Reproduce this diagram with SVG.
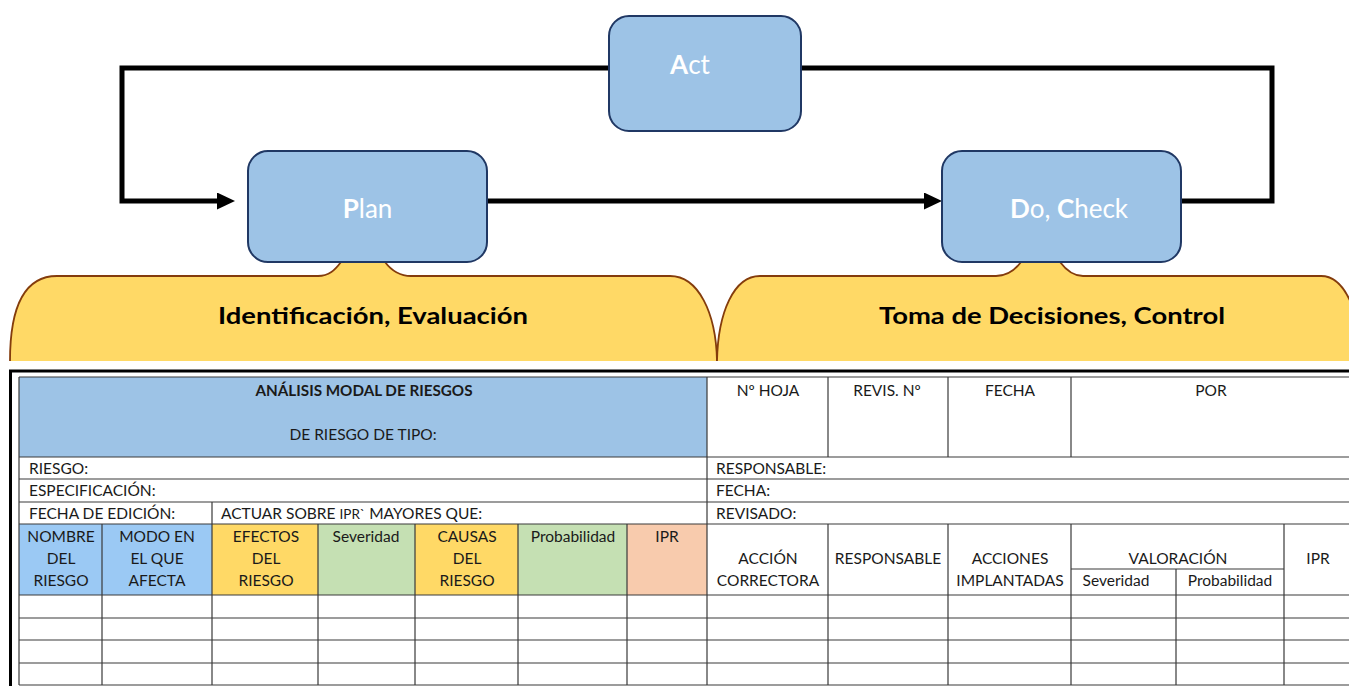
<svg xmlns="http://www.w3.org/2000/svg" width="1349" height="686" viewBox="0 0 1349 686">
<style>
  .box { fill: #9DC3E6; stroke: #203864; stroke-width: 2; }
  .boxt { font-family: Lato, "Open Sans", sans-serif; font-size: 26px; fill: #ffffff; text-anchor: middle; }
  .callout { fill: #FFD966; stroke: #843C0C; stroke-width: 1.8; }
  .callt { font-family: Lato, "Open Sans", sans-serif; font-size: 22px; font-weight: bold; fill: #000; text-anchor: middle; }
  .conn { fill: none; stroke: #000; stroke-width: 5; stroke-linejoin: miter; }
  .t { font-family: Lato, "Open Sans", sans-serif; font-size: 15.5px; fill: #1a1a1a; }
  .c { text-anchor: middle; }
  .g { stroke: #3a3a3a; stroke-width: 1.2; fill: none; }
</style>
<defs>
  <marker id="arr" markerUnits="userSpaceOnUse" markerWidth="18" markerHeight="18" refX="0" refY="8.5" orient="auto">
    <path d="M0,0 L18,8.5 L0,17 Z" fill="#000"/>
  </marker>
</defs>
<rect width="1349" height="686" fill="#ffffff"/>

<g id="callout-left">
  <path class="callout" d="M 10 361 C 10 305, 25 276, 57 276 L 318 276 C 329 276, 335 270, 341 262 L 385 262 C 391 270, 399 276, 411 276 L 670 276 C 698 276, 716 312, 717 361"/>
  <text class="callt" x="373" y="324" textLength="310" lengthAdjust="spacingAndGlyphs">Identificación, Evaluación</text>
</g>
<g id="callout-right">
  <path class="callout" d="M 717 361 C 718 312, 734 276, 760 276 L 996 276 C 1007 276, 1015 270, 1021 262 L 1060 262 C 1066 270, 1073 276, 1083 276 L 1321 276 C 1345 276, 1360 312, 1362 361"/>
  <text class="callt" x="1052" y="324" textLength="346" lengthAdjust="spacingAndGlyphs">Toma de Decisiones, Control</text>
</g>

<g id="connectors">
  <path class="conn" d="M 609 68 H 122 V 201 H 217" marker-end="url(#arr)"/>
  <path class="conn" d="M 487 201 H 924" marker-end="url(#arr)"/>
  <path class="conn" d="M 1181 201 H 1272 V 68 H 801"/>
</g>

<g id="act">
  <rect class="box" x="609" y="16" width="192" height="115" rx="20"/>
  <text class="boxt" x="690" y="74"><tspan font-weight="bold">A</tspan>ct</text>
</g>
<g id="plan">
  <rect class="box" x="248" y="151" width="239" height="111" rx="20"/>
  <text class="boxt" x="367.5" y="218"><tspan font-weight="bold">P</tspan>lan</text>
</g>
<g id="docheck">
  <rect class="box" x="942" y="151" width="239" height="111" rx="20"/>
  <text class="boxt" x="1069" y="218"><tspan font-weight="bold">D</tspan>o, <tspan font-weight="bold">C</tspan>heck</text>
</g>

<g id="table">
  <path d="M 10.5 686 V 371 H 1349" fill="none" stroke="#000" stroke-width="3"/>
  <rect x="19" y="377" width="688" height="80" fill="#9DC3E6"/>
  <rect x="19" y="524" width="193" height="71" fill="#9BC9F4"/>
  <rect x="212" y="524" width="106" height="71" fill="#FFD966"/>
  <rect x="318" y="524" width="97" height="71" fill="#C5E0B3"/>
  <rect x="415" y="524" width="103" height="71" fill="#FFD966"/>
  <rect x="518" y="524" width="109" height="71" fill="#C5E0B3"/>
  <rect x="627" y="524" width="80" height="71" fill="#F8CBAD"/>
  <path class="g" d="M 19 377 H 1349 M 19 457 H 1349 M 19 479 H 1349 M 19 502 H 1349 M 19 524 H 1349 M 19 595 H 1349 M 19 618 H 1349 M 19 640 H 1349 M 19 663 H 1349 M 19 685 H 1349 M 1071 569 H 1284"/>
  <path class="g" d="M 19 377 V 685 M 102 524 V 685 M 212 502 V 685 M 318 524 V 685 M 415 524 V 685 M 518 524 V 685 M 627 524 V 685 M 707 377 V 685 M 828 377 V 457 M 828 524 V 685 M 948 377 V 457 M 948 524 V 685 M 1071 377 V 457 M 1071 524 V 685 M 1176 569 V 685 M 1284 524 V 685"/>
  <text class="t c" x="364" y="396" font-weight="bold" textLength="217" lengthAdjust="spacingAndGlyphs">ANÁLISIS MODAL DE RIESGOS</text>
  <text class="t c" x="363" y="440">DE RIESGO DE TIPO:</text>
  <text class="t c" x="768" y="396">Nº HOJA</text>
  <text class="t c" x="887" y="396">REVIS. Nº</text>
  <text class="t c" x="1010" y="396">FECHA</text>
  <text class="t c" x="1211" y="396">POR</text>
  <text class="t" x="29" y="474">RIESGO:</text>
  <text class="t" x="29" y="496">ESPECIFICACIÓN:</text>
  <text class="t" x="29" y="519">FECHA DE EDICIÓN:</text>
  <text class="t" x="221" y="519">ACTUAR SOBRE <tspan font-size="13.5">IPR`</tspan> MAYORES QUE:</text>
  <text class="t" x="716" y="474">RESPONSABLE:</text>
  <text class="t" x="716" y="496">FECHA:</text>
  <text class="t" x="716" y="519">REVISADO:</text>
  <text class="t c" x="61" y="542">NOMBRE</text>
  <text class="t c" x="61" y="564">DEL</text>
  <text class="t c" x="61" y="586">RIESGO</text>
  <text class="t c" x="157" y="542">MODO EN</text>
  <text class="t c" x="157" y="564">EL QUE</text>
  <text class="t c" x="157" y="586">AFECTA</text>
  <text class="t c" x="266" y="542">EFECTOS</text>
  <text class="t c" x="266" y="564">DEL</text>
  <text class="t c" x="266" y="586">RIESGO</text>
  <text class="t c" x="366" y="542">Severidad</text>
  <text class="t c" x="467" y="542">CAUSAS</text>
  <text class="t c" x="467" y="564">DEL</text>
  <text class="t c" x="467" y="586">RIESGO</text>
  <text class="t c" x="573" y="542">Probabilidad</text>
  <text class="t c" x="667" y="542">IPR</text>
  <text class="t c" x="768" y="564">ACCIÓN</text>
  <text class="t c" x="768" y="586">CORRECTORA</text>
  <text class="t c" x="888" y="564">RESPONSABLE</text>
  <text class="t c" x="1010" y="564">ACCIONES</text>
  <text class="t c" x="1010" y="586">IMPLANTADAS</text>
  <text class="t c" x="1178" y="564">VALORACIÓN</text>
  <text class="t c" x="1116" y="586">Severidad</text>
  <text class="t c" x="1230" y="586">Probabilidad</text>
  <text class="t c" x="1318" y="564">IPR</text>
</g>
</svg>
